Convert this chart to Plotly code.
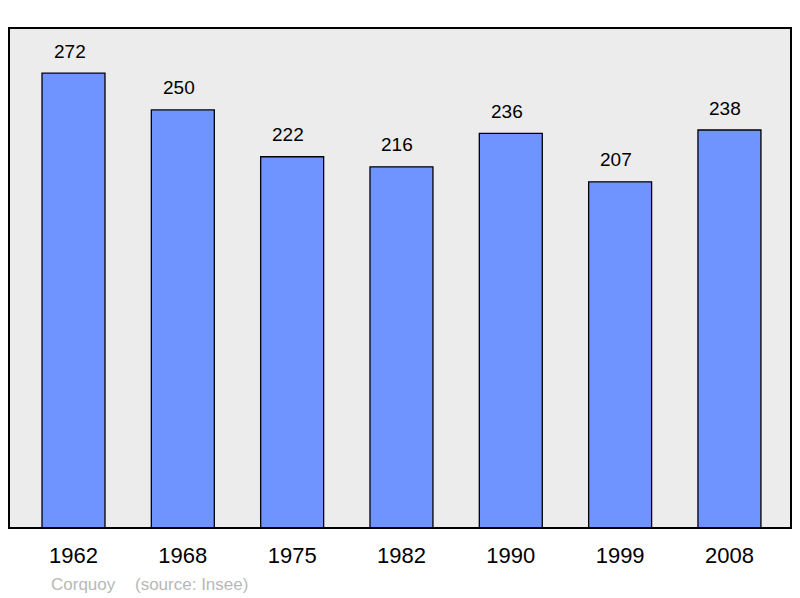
import plotly.graph_objects as go

years = ["1962", "1968", "1975", "1982", "1990", "1999", "2008"]
population = [272, 250, 222, 216, 236, 207, 238]
caption_name = "Corquoy"
caption_source = "(source: Insee)"

xs = list(range(len(years)))
FONT = "Liberation Sans, Arial, sans-serif"

fig = go.Figure()
fig.add_trace(go.Bar(
    x=xs, y=population, width=0.576,
    marker=dict(color="#7094ff", line=dict(color="#000000", width=1.3)),
    hoverinfo="skip",
))

for x, v in zip(xs, population):
    fig.add_annotation(x=x, y=v, xref="x", yref="y", text=str(v), showarrow=False,
                       yanchor="middle", yshift=22, xshift=-4,
                       font=dict(family=FONT, size=19, color="#000000"))

fig.add_annotation(xref="paper", yref="paper", x=(49 - 9) / 782, y=-0.112, xanchor="left", yanchor="middle",
                   text=caption_name, showarrow=False,
                   font=dict(family=FONT, size=17, color="#b8b8b8"))
fig.add_annotation(xref="paper", yref="paper", x=(133 - 9) / 782, y=-0.112, xanchor="left", yanchor="middle",
                   text=caption_source, showarrow=False,
                   font=dict(family=FONT, size=17, color="#b8b8b8"))

fig.add_shape(type="rect", xref="paper", yref="paper", x0=0, x1=1, y0=0, y1=1,
              line=dict(color="#000000", width=2), layer="above")

fig.update_layout(
    width=800, height=598,
    margin=dict(l=9, r=9, t=28, b=70),
    plot_bgcolor="#ececec", paper_bgcolor="#ffffff",
    showlegend=False,
    xaxis=dict(range=[-0.59, 6.563], tickvals=xs, ticktext=years, showgrid=False, zeroline=False,
               ticks="outside", ticklen=8, tickcolor="rgba(0,0,0,0)",
               tickfont=dict(family=FONT, size=22, color="#000000")),
    yaxis=dict(range=[0, 299], showgrid=False, zeroline=False, showticklabels=False, ticks=""),
)

fig.write_html("out.html", config={"displayModeBar": False},
               post_script="document.body.style.margin='0';document.body.style.padding='0';")
